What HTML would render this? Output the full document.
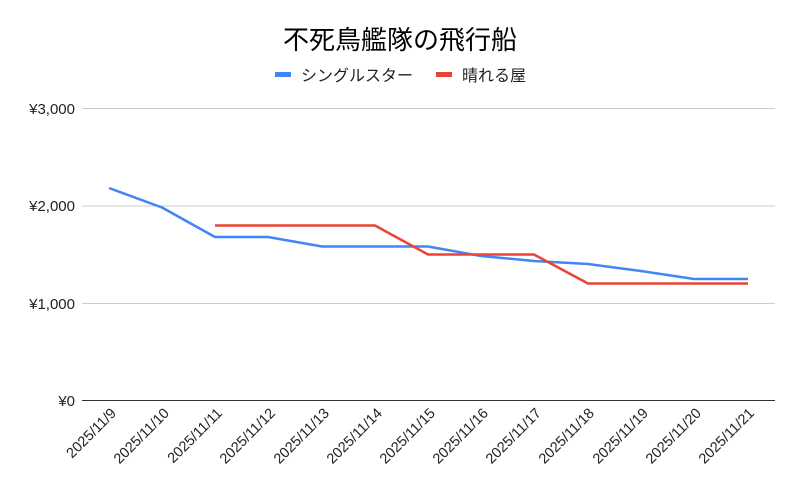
<!DOCTYPE html>
<html><head><meta charset="utf-8"><style>
body{margin:0;background:#fff;}
svg{display:block;font-family:"Liberation Sans","Noto Sans CJK JP",sans-serif;}
</style></head><body>
<svg width="800" height="495" viewBox="0 0 800 495">
<rect width="800" height="495" fill="#fff"/>
<text x="400" y="49" text-anchor="middle" font-size="26" fill="#000">不死鳥艦隊の飛行船</text>
<rect x="275" y="72" width="16" height="5" fill="#4285f4"/>
<text x="301" y="81" font-size="16" fill="#222">シングルスター</text>
<rect x="436" y="72" width="16" height="5" fill="#ea4335"/>
<text x="462" y="81" font-size="16" fill="#222">晴れる屋</text>
<g stroke="#ccc" stroke-width="1">
<line x1="82" y1="108.5" x2="775" y2="108.5"/>
<line x1="82" y1="206" x2="775" y2="206"/>
<line x1="82" y1="303.5" x2="775" y2="303.5"/>
</g>
<line x1="82" y1="400.5" x2="775" y2="400.5" stroke="#333" stroke-width="1"/>
<g font-size="15" fill="#222" text-anchor="end">
<text x="75" y="114">¥3,000</text>
<text x="75" y="211">¥2,000</text>
<text x="75" y="309">¥1,000</text>
<text x="75" y="406">¥0</text>
</g>
<g font-size="14.5" fill="#222" text-anchor="end">
<text transform="translate(117,414) rotate(-45)">2025/11/9</text>
<text transform="translate(170,414) rotate(-45)">2025/11/10</text>
<text transform="translate(223,414) rotate(-45)">2025/11/11</text>
<text transform="translate(276,414) rotate(-45)">2025/11/12</text>
<text transform="translate(330,414) rotate(-45)">2025/11/13</text>
<text transform="translate(383,414) rotate(-45)">2025/11/14</text>
<text transform="translate(436,414) rotate(-45)">2025/11/15</text>
<text transform="translate(489,414) rotate(-45)">2025/11/16</text>
<text transform="translate(542,414) rotate(-45)">2025/11/17</text>
<text transform="translate(595,414) rotate(-45)">2025/11/18</text>
<text transform="translate(649,414) rotate(-45)">2025/11/19</text>
<text transform="translate(702,414) rotate(-45)">2025/11/20</text>
<text transform="translate(755,414) rotate(-45)">2025/11/21</text>
</g>
<polyline fill="none" stroke="#4285f4" stroke-width="2.5" stroke-linejoin="round" points="109,188 162,207.5 215,237 268,237 322,246.5 375,246.5 428,246.5 481,256 534,261 588,264 641,271 694,279 748,279"/>
<polyline fill="none" stroke="#ea4335" stroke-width="2.5" stroke-linejoin="round" points="215,225.5 268,225.5 322,225.5 375,225.5 428,254.5 481,254.5 534,254.5 588,283.5 641,283.5 694,283.5 748,283.5"/>
</svg>
</body></html>
